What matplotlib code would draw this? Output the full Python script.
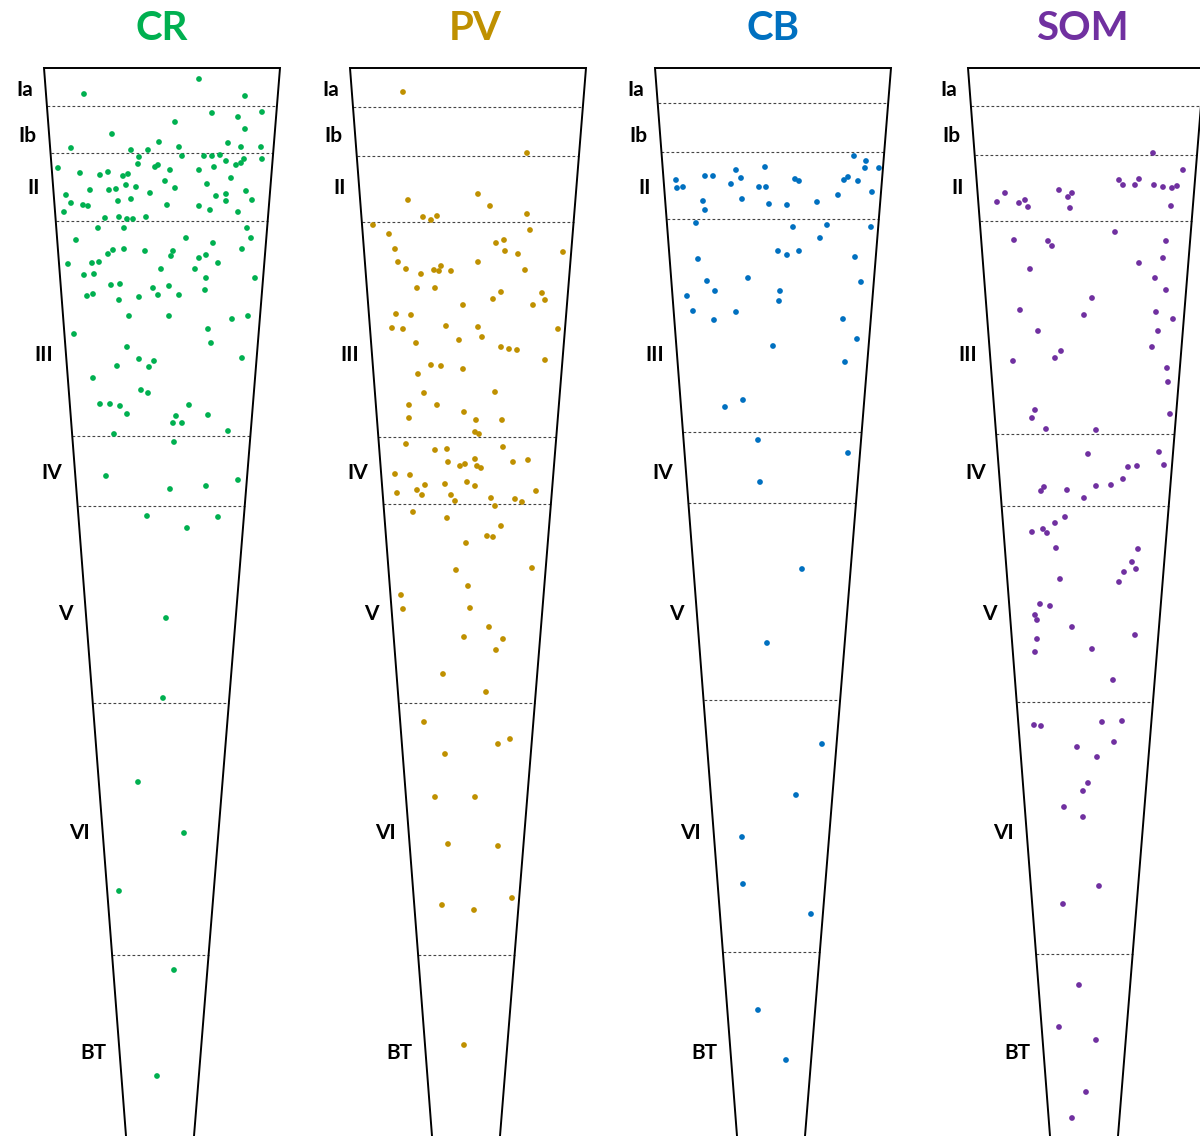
import matplotlib
matplotlib.use("Agg")
import matplotlib.pyplot as plt
import numpy as np

# Panels: cell type, colour
panels = ["CR", "PV", "CB", "SOM"]
colors = ["#00B050", "#BF9000", "#0070C0", "#7030A0"]

# Layer names and label depths (px from top)
layers = ["Ia", "Ib", "II", "III", "IV", "V", "VI", "BT"]
label_y = [90, 136, 188, 355, 473, 614, 833, 1053]

# Layer boundaries (depth, px) per panel
cr_bounds = [106, 153, 221, 436, 506, 703, 955]
pv_bounds = [107, 156, 222, 437, 504, 703, 955]
cb_bounds = [103, 152, 219, 432, 503, 700, 952]
som_bounds = [106, 155, 221, 434, 506, 702, 954]

# Cell positions (x relative to the wedge's top-left corner, y = depth)
cr_x = [155, 40, 201, 168, 218, 194, 131, 201, 68, 184, 115, 27, 87, 104, 135, 197, 217, 95, 138, 160,
        168, 176, 200, 218, 182, 197, 192, 94, 114, 111, 170, 14, 155, 126, 36, 56, 64, 79, 84, 187,
        121, 163, 82, 92, 131, 72, 65, 46, 202, 106, 22, 182, 172, 87, 74, 182, 208, 27, 39, 44,
        123, 155, 166, 20, 194, 61, 75, 83, 89, 102, 54, 80, 203, 32, 142, 207, 169, 69, 80, 64,
        101, 129, 127, 198, 162, 155, 24, 48, 55, 174, 151, 117, 211, 40, 50, 162, 67, 76, 109, 114,
        125, 161, 43, 49, 75, 95, 135, 85, 125, 188, 204, 164, 30, 167, 83, 95, 110, 105, 73, 198,
        49, 97, 104, 56, 66, 76, 145, 83, 132, 164, 129, 138, 184, 70, 130, 62, 126, 162, 194, 103,
        174, 143, 122, 119, 94, 140, 75, 130, 113]
cr_y = [79, 94, 96, 113, 112, 117, 122, 129, 134, 143, 142, 148, 150, 150, 147, 147, 147, 157, 156, 156,
        156, 155, 159, 159, 161, 163, 165, 164, 165, 167, 167, 168, 170, 170, 173, 175, 172, 176, 174, 178,
        181, 184, 185, 187, 188, 189, 190, 190, 191, 193, 195, 194, 196, 199, 201, 201, 200, 203, 205, 206,
        205, 206, 210, 212, 212, 218, 217, 219, 219, 217, 228, 228, 228, 240, 238, 238, 243, 250, 249, 254,
        251, 251, 256, 249, 255, 258, 264, 263, 262, 263, 269, 269, 278, 275, 274, 278, 285, 284, 288, 295,
        286, 290, 296, 294, 300, 297, 295, 316, 316, 319, 316, 329, 334, 343, 347, 359, 361, 367, 366, 358,
        378, 390, 393, 404, 404, 406, 405, 414, 416, 415, 423, 423, 431, 434, 442, 476, 489, 486, 480, 516,
        517, 528, 618, 698, 782, 833, 891, 970, 1076]

pv_x = [53, 177, 128, 58, 140, 177, 73, 81, 87, 23, 180, 39, 146, 154, 45, 155, 168, 213, 48, 128,
        56, 84, 91, 89, 101, 175, 71, 67, 85, 151, 143, 192, 195, 113, 183, 46, 61, 42, 53, 96,
        128, 132, 208, 109, 66, 151, 159, 167, 195, 81, 91, 113, 68, 74, 145, 59, 87, 114, 126, 152,
        59, 125, 129, 56, 85, 97, 153, 98, 125, 115, 110, 127, 131, 163, 178, 45, 60, 117, 75, 95,
        125, 67, 72, 101, 186, 47, 105, 141, 165, 172, 145, 63, 97, 151, 137, 143, 116, 106, 182, 118,
        51, 53, 120, 139, 114, 153, 146, 93, 136, 74, 160, 148, 95, 85, 125, 98, 148, 162, 92, 124,
        114]
pv_y = [92, 153, 194, 200, 206, 214, 217, 220, 216, 225, 230, 234, 243, 240, 249, 251, 254, 252, 262, 262,
        269, 270, 266, 271, 271, 270, 274, 288, 288, 292, 299, 293, 300, 305, 305, 314, 315, 328, 329, 326,
        327, 337, 329, 340, 343, 347, 349, 350, 360, 365, 366, 369, 374, 393, 392, 405, 405, 412, 420, 420,
        418, 432, 434, 444, 450, 449, 447, 462, 459, 464, 466, 466, 468, 462, 460, 474, 475, 482, 485, 484,
        486, 490, 495, 495, 491, 493, 501, 498, 499, 502, 506, 512, 518, 526, 536, 537, 543, 570, 568, 586,
        595, 609, 608, 627, 637, 639, 650, 674, 692, 722, 739, 744, 754, 797, 797, 844, 846, 898, 905, 910,
        1045]

cb_x = [199, 211, 210, 224, 110, 81, 50, 58, 86, 21, 22, 28, 76, 104, 111, 140, 144, 189, 193, 203,
        217, 183, 87, 48, 50, 114, 132, 162, 41, 138, 172, 216, 165, 123, 132, 144, 200, 43, 206, 52,
        93, 60, 125, 124, 32, 38, 81, 59, 188, 202, 118, 190, 70, 88, 103, 193, 105, 147, 112, 167,
        141, 87, 88, 156, 103, 131]
cb_y = [156, 161, 168, 168, 167, 170, 176, 176, 178, 180, 188, 187, 184, 187, 187, 179, 181, 180, 177, 181,
        192, 195, 199, 201, 210, 204, 205, 202, 223, 227, 225, 227, 238, 251, 255, 251, 257, 259, 282, 281,
        278, 291, 291, 301, 296, 311, 312, 320, 319, 339, 346, 362, 407, 400, 440, 453, 482, 569, 643, 744,
        795, 837, 884, 914, 1010, 1060]

som_x = [185, 215, 151, 155, 167, 171, 186, 195, 204, 209, 203, 29, 37, 51, 57, 60, 91, 100, 104, 102,
         147, 46, 80, 84, 198, 195, 171, 62, 187, 198, 124, 52, 116, 188, 205, 70, 190, 184, 93, 87,
         45, 199, 200, 202, 67, 64, 78, 128, 120, 191, 196, 160, 169, 155, 128, 143, 99, 73, 76, 116,
         97, 87, 64, 75, 79, 88, 170, 164, 156, 168, 151, 92, 72, 82, 67, 69, 104, 167, 69, 67,
         124, 145, 66, 73, 134, 154, 146, 109, 129, 120, 115, 96, 115, 131, 95, 111, 91, 128, 118, 104]
som_y = [153, 170, 180, 185, 185, 179, 185, 187, 188, 186, 206, 202, 193, 203, 200, 207, 190, 197, 193, 208,
         232, 240, 241, 246, 241, 258, 263, 269, 278, 290, 298, 310, 315, 312, 319, 331, 331, 347, 351, 358,
         361, 368, 382, 414, 410, 418, 429, 430, 454, 452, 465, 467, 466, 479, 486, 485, 490, 491, 487, 498,
         517, 523, 532, 529, 533, 548, 549, 562, 572, 569, 582, 579, 604, 606, 615, 620, 627, 635, 639, 652,
         649, 680, 725, 726, 722, 721, 742, 747, 757, 783, 791, 807, 817, 886, 904, 985, 1027, 1040, 1092, 1118]

all_x = [cr_x, pv_x, cb_x, som_x]
all_y = [cr_y, pv_y, cb_y, som_y]
all_bounds = [cr_bounds, pv_bounds, cb_bounds, som_bounds]

# Layout (pixels)
W, H = 1200, 1136
panel_left = [44, 350, 655, 968]
title_dx = [118, 125, 118, 114]
top_y = 68
top_w = 236
# wedge edges: left moves in by 82 px and right by 86 px over 1068 px of depth
def left_edge(y):
    return 82.0 * (y - top_y) / 1068.0

def right_edge(y):
    return top_w - 86.0 * (y - top_y) / 1068.0

fig = plt.figure(figsize=(W / 100, H / 100), dpi=100)
ax = fig.add_axes([0, 0, 1, 1])
ax.set_xlim(0, W)
ax.set_ylim(H, 0)
ax.axis("off")

font = ["Lato", "DejaVu Sans"]
y_end = 1200

for i, name in enumerate(panels):
    x0 = panel_left[i]
    col = colors[i]

    # wedge outline
    ax.plot([x0 + left_edge(y_end), x0 + left_edge(top_y), x0 + right_edge(top_y), x0 + right_edge(y_end)],
            [y_end, top_y, top_y, y_end], color="black", lw=1.4, solid_joinstyle="miter", zorder=3)

    # layer boundaries
    for b in all_bounds[i]:
        ax.plot([x0 + left_edge(b), x0 + right_edge(b)], [b, b], color="#444444", lw=0.8,
                linestyle=(0, (2.5, 2)), zorder=2)

    # cells
    ax.scatter(np.array(all_x[i]) + x0, all_y[i], s=17, color=col, edgecolors="none", zorder=4)

    # title
    ax.text(x0 + title_dx[i], 28, name, color=col, fontsize=29, fontweight="bold", family=font,
            ha="center", va="center")

    # layer labels
    for lab, ly in zip(layers, label_y):
        ax.text(x0 + left_edge(ly) - 13, ly, lab, fontsize=15, fontweight="bold", family=font,
                ha="right", va="center", color="black")

fig.savefig("out.png", dpi=100)
